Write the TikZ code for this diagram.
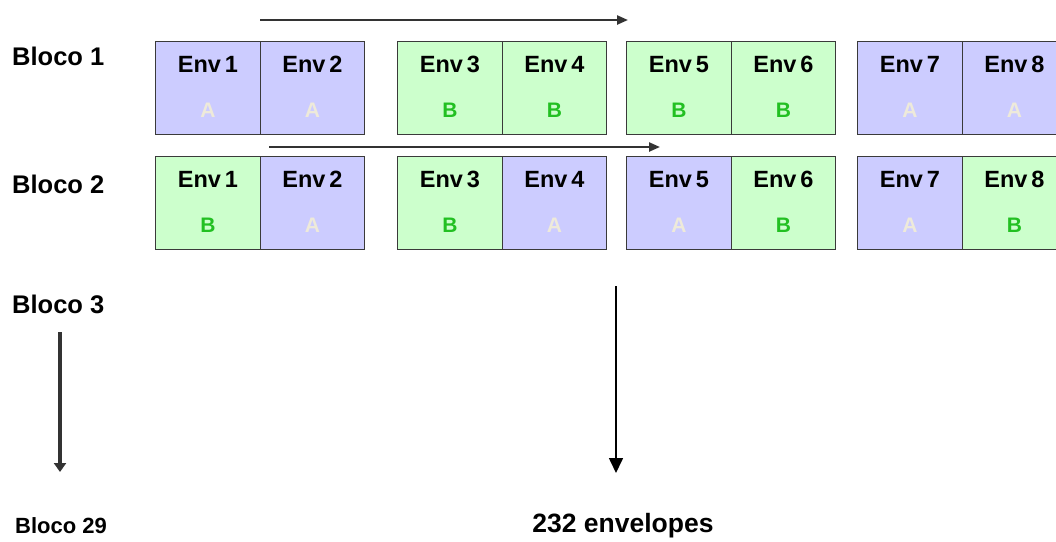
\documentclass[tikz,border=0pt]{standalone}
\usepackage{fontspec}
\setmainfont{Liberation Sans}
\usetikzlibrary{arrows.meta}
\definecolor{lav}{HTML}{CCCCFF}
\definecolor{mint}{HTML}{CCFFCC}
\definecolor{edge}{HTML}{3A3A3A}
\definecolor{aletter}{HTML}{EEEADA}
\definecolor{bletter}{HTML}{22C022}
\definecolor{arrowgray}{HTML}{333333}
\tikzset{
  cell/.style={draw=edge, line width=1.3pt, minimum width=104.5pt, minimum height=93pt,
    inner sep=0pt, anchor=north west},
  cellA/.style={cell, fill=lav},
  cellB/.style={cell, fill=mint},
  envtxt/.style={font=\bfseries\fontsize{23.5}{26}\selectfont, text=black, inner sep=0pt, anchor=base},
  ltrA/.style={font=\bfseries\fontsize{21}{24}\selectfont, text=aletter, inner sep=0pt, anchor=base},
  ltrB/.style={font=\bfseries\fontsize{21}{24}\selectfont, text=bletter, inner sep=0pt, anchor=base},
  blk/.style={font=\bfseries\fontsize{25.5}{28}\selectfont, inner sep=0pt, anchor=west},
  hflow/.style={draw=arrowgray, line width=2.3pt, -{Triangle[length=11pt,width=9pt]}},
}
% one envelope cell: name, x, y, style letter, envelope number
\newcommand{\envcell}[5]{%
  \node[cell#4] (#1) at (#2,#3) {};
  \node[envtxt] at ([yshift=-31.5pt]#1.north) {Env\,#5};
  \node[ltr#4] at ([yshift=-76.5pt]#1.north) {#4};
}
\begin{document}
\begin{tikzpicture}[x=1pt,y=-1pt]
\useasboundingbox (0,0) rectangle (1056,541);
\clip (0,0) rectangle (1056,541);
\fill[white] (0,0) rectangle (1056,541);

% row labels
\node[blk] (b1) at (12,56) {Bloco 1};
\node[blk] (b2) at (12,184) {Bloco 2};
\node[blk] (b3) at (12,304) {Bloco 3};
\node[font=\bfseries\fontsize{22}{25}\selectfont, inner sep=0pt, anchor=west] (b29) at (15,526) {Bloco 29};
\node[font=\bfseries\fontsize{26.5}{30}\selectfont, inner sep=0pt] (tot) at (623,526) {232 envelopes};

% block 1
\envcell{a1}{155}{41}{A}{1}
\envcell{a2}{259.5}{41}{A}{2}
\envcell{a3}{397}{41}{B}{3}
\envcell{a4}{501.5}{41}{B}{4}
\envcell{a5}{626}{41}{B}{5}
\envcell{a6}{730.5}{41}{B}{6}
\envcell{a7}{857}{41}{A}{7}
\envcell{a8}{961.5}{41}{A}{8}

% block 2
\envcell{c1}{155}{156}{B}{1}
\envcell{c2}{259.5}{156}{A}{2}
\envcell{c3}{397}{156}{B}{3}
\envcell{c4}{501.5}{156}{A}{4}
\envcell{c5}{626}{156}{A}{5}
\envcell{c6}{730.5}{156}{B}{6}
\envcell{c7}{857}{156}{A}{7}
\envcell{c8}{961.5}{156}{B}{8}

% flow arrows
\coordinate (h1s) at (260,20);
\coordinate (h1e) at (628,20);
\draw[hflow] (h1s) -- (h1e);
\coordinate (h2s) at (269,147);
\coordinate (h2e) at (660,147);
\draw[hflow] (h2s) -- (h2e);

\coordinate (v1s) at (60,332);
\coordinate (v1e) at (60,472);
\draw[draw=arrowgray, line width=3.5pt, -{Triangle[length=9pt,width=12pt]}] (v1s) -- (v1e);

\coordinate (v2s) at (616,286);
\coordinate (v2e) at (616,473);
\draw[draw=black, line width=1.6pt, -{Triangle[length=15pt,width=14pt]}] (v2s) -- (v2e);
\end{tikzpicture}
\end{document}
